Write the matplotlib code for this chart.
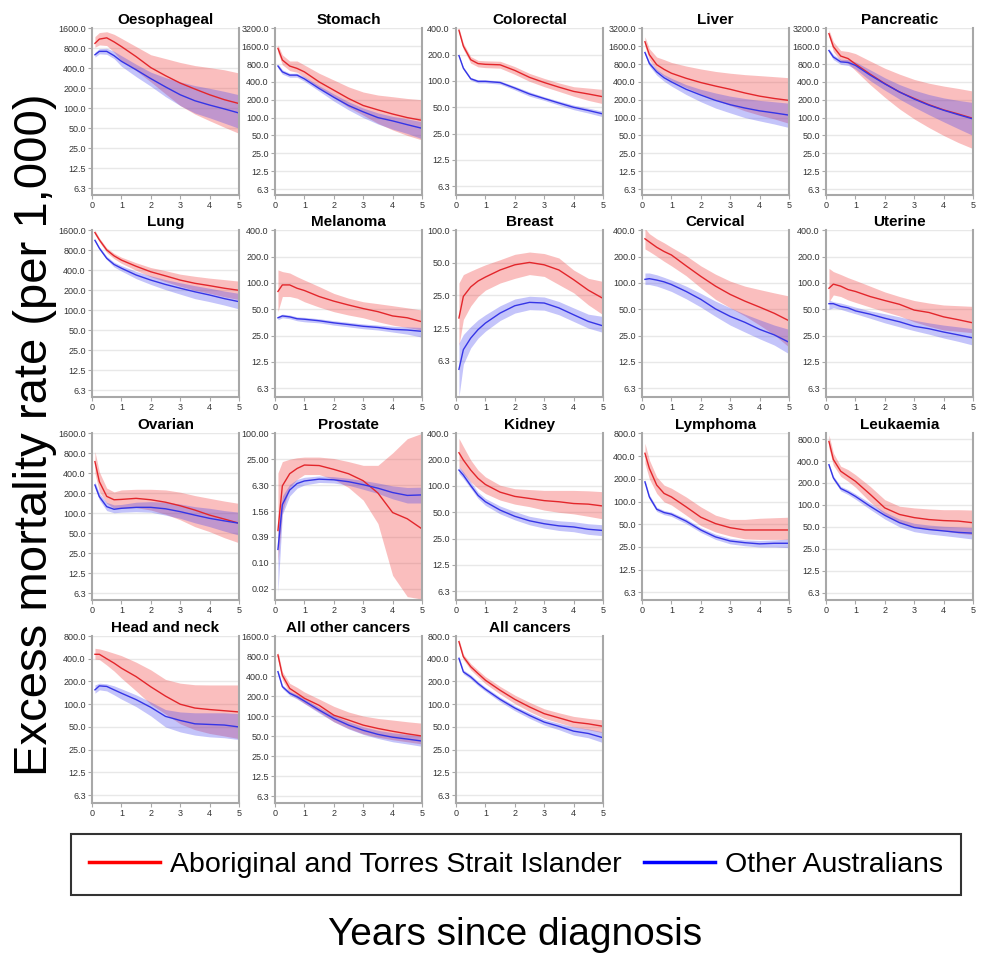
import numpy as np
import matplotlib
matplotlib.use('Agg')
import matplotlib.pyplot as plt
from matplotlib.lines import Line2D

plt.rcParams['font.family'] = ['Liberation Sans', 'DejaVu Sans']

years = [0.1, 0.25, 0.5, 0.75, 1, 1.5, 2, 2.5, 3, 3.5, 4, 4.5, 5]

# each array: [estimate, lower, upper] at the years above
oeso_ab = [[950, 1100, 1150, 1000, 850, 600, 410, 310, 240, 195, 160, 135, 118],
           [830, 900, 880, 700, 520, 370, 250, 165, 110, 82, 65, 52, 42],
           [1200, 1380, 1420, 1300, 1130, 850, 640, 560, 490, 440, 410, 380, 340]]
oeso_oth = [[640, 720, 720, 620, 510, 380, 280, 210, 160, 130, 112, 98, 85],
            [590, 660, 650, 560, 430, 300, 215, 150, 110, 85, 72, 60, 50],
            [700, 790, 800, 720, 620, 460, 350, 290, 250, 220, 200, 180, 160]]
stom_ab = [[1470, 935, 740, 675, 590, 400, 290, 210, 160, 135, 115, 100, 90],
           [1250, 780, 620, 580, 480, 320, 220, 150, 110, 80, 62, 50, 42],
           [1680, 1140, 900, 900, 770, 560, 430, 330, 270, 240, 225, 210, 200]]
stom_oth = [[740, 590, 520, 520, 450, 310, 220, 160, 125, 100, 88, 76, 66],
            [680, 540, 480, 480, 410, 280, 190, 135, 100, 78, 64, 54, 44],
            [800, 640, 560, 560, 490, 345, 250, 185, 145, 120, 105, 95, 85]]
colo_ab = [[380, 250, 175, 158, 155, 153, 132, 110, 96, 85, 76, 71, 66],
           [355, 230, 160, 145, 142, 140, 119, 99, 86, 76, 67, 60, 55],
           [405, 270, 190, 172, 170, 168, 146, 122, 107, 95, 86, 83, 80]]
colo_oth = [[195, 140, 106, 99, 99, 96, 83, 71, 63, 56, 50, 46, 42],
            [190, 135, 102, 95, 95, 92, 79, 67, 60, 53, 47, 43, 39],
            [200, 145, 110, 103, 103, 100, 87, 75, 66, 59, 53, 49, 45]]
liver_ab = [[1900, 1150, 780, 650, 560, 460, 390, 340, 300, 260, 230, 210, 195],
            [1600, 950, 620, 500, 420, 320, 250, 200, 160, 130, 110, 95, 80],
            [2300, 1450, 1050, 950, 850, 740, 660, 600, 560, 530, 510, 490, 470]]
liver_oth = [[1250, 820, 590, 470, 400, 300, 240, 195, 165, 145, 130, 120, 110],
             [1150, 740, 520, 410, 340, 245, 185, 145, 120, 100, 88, 78, 68],
             [1350, 900, 650, 530, 460, 360, 300, 260, 230, 210, 195, 185, 175]]
panc_ab = [[2600, 1570, 1090, 990, 800, 540, 375, 270, 210, 165, 135, 115, 97],
           [2300, 1300, 900, 820, 620, 360, 220, 140, 95, 68, 50, 38, 30],
           [3000, 1900, 1350, 1300, 1200, 900, 680, 540, 440, 380, 340, 310, 280]]
panc_oth = [[1350, 1050, 870, 850, 760, 520, 370, 270, 205, 162, 133, 112, 95],
            [1250, 950, 790, 760, 660, 420, 290, 205, 150, 112, 85, 65, 50],
            [1450, 1150, 960, 950, 870, 640, 470, 360, 290, 245, 215, 195, 180]]
lung_ab = [[1480, 1150, 810, 660, 570, 460, 380, 330, 285, 255, 235, 215, 200],
           [1380, 1070, 740, 600, 510, 400, 320, 270, 230, 200, 180, 160, 145],
           [1600, 1230, 870, 720, 630, 520, 440, 395, 350, 325, 305, 290, 275]]
lung_oth = [[1130, 860, 606, 490, 430, 340, 285, 245, 215, 190, 170, 150, 135],
            [1080, 820, 580, 450, 390, 300, 245, 205, 175, 150, 135, 120, 105],
            [1180, 900, 650, 530, 470, 385, 330, 290, 260, 235, 215, 195, 180]]
mela_ab = [[80, 95, 95, 87, 82, 70, 62, 56, 51, 47, 42, 40, 36],
           [47, 70, 70, 67, 61, 53, 47, 43, 40, 36, 33, 31, 29],
           [141, 135, 130, 118, 108, 91, 76, 67, 61, 58, 55, 52, 49]]
mela_oth = [[40, 42, 41, 39, 38.5, 37, 35, 33.5, 32, 31, 29.5, 29, 28],
            [38, 40, 39, 37, 36, 35, 33, 31.5, 30, 29, 27.5, 26, 24],
            [42, 44, 43, 41, 40.5, 39, 37, 35.5, 34, 33, 32, 31.5, 31]]
breast_ab = [[15.5, 24.5, 30, 34, 37, 43, 48, 50.5, 48, 43, 35, 28, 23.5],
             [8.6, 15, 20, 24.5, 28, 32.6, 36, 39, 37.5, 31.5, 26.5, 20.5, 16.6],
             [32.6, 39, 42, 45, 48, 53.5, 60, 63, 61, 55.5, 43, 36, 33.7]]
breast_oth = [[5.2, 7.9, 10.1, 12.1, 13.9, 17.2, 20.1, 21.6, 21.3, 19.2, 16.6, 14.4, 13.1],
              [2.9, 5.8, 8.2, 10.1, 11.7, 14.7, 17.2, 18.5, 18.3, 16.6, 14.4, 12.5, 11.4],
              [9.1, 10.9, 12.9, 14.9, 16.6, 20.1, 23.2, 24.6, 24.2, 22, 19.2, 16.8, 16]]
cerv_ab = [[320, 294, 256, 229, 209, 157, 119, 92, 74, 62, 53, 45, 37],
           [245, 229, 202, 177, 157, 121, 88, 65, 52, 42, 33, 25.5, 18.5],
           [420, 366, 320, 288, 256, 205, 157, 126, 105, 92, 84, 77, 71]]
cerv_oth = [[110, 112, 108, 103, 96, 80, 65, 50.5, 41.5, 35.5, 29.5, 25.5, 21],
            [96, 96, 92, 86, 80, 66, 53, 41.5, 33, 27.5, 23, 19.5, 15.5],
            [130, 130, 124, 116, 108, 92, 76, 62, 52, 44, 38, 33, 29.5]]
uter_ab = [[87, 97, 92, 84, 80, 70, 63, 57, 49, 46, 41, 38, 35],
           [61, 73, 70, 64, 60, 53, 47, 42, 36, 32, 29, 28, 27],
           [147, 135, 125, 115, 107, 92, 79, 70, 63, 59, 56, 55, 54]]
uter_oth = [[58, 58, 54, 52, 48, 44, 39.5, 36, 32, 30, 27.5, 25.5, 23.5],
            [50, 52, 50, 47, 44.5, 39.5, 35, 31.5, 28.5, 26, 23.5, 21.5, 19.5],
            [64, 61, 59, 56, 53, 48, 44.5, 41, 37.5, 35, 33, 31.5, 30]]
ovar_ab = [[600, 300, 180, 160, 162, 168, 160, 147, 130, 112, 94, 82, 71],
           [400, 212, 142, 119, 119, 122, 112, 97, 80, 63, 53, 43, 36],
           [850, 420, 240, 210, 225, 230, 230, 225, 208, 185, 168, 153, 141]]
ovar_oth = [[267, 178, 126, 115, 119, 123, 123, 117, 106, 94, 84, 77, 71],
            [238, 160, 110, 102, 104, 106, 104, 94, 84, 72, 63, 54, 47],
            [300, 200, 146, 134, 136, 147, 150, 147, 138, 126, 119, 110, 104]]
prost_ab = [[0.55, 6.0, 11.5, 15.2, 18.3, 17.8, 14.5, 11.5, 7.9, 4.1, 1.44, 1.03, 0.6],
            [0.1, 1.5, 5.5, 8.5, 11, 11, 8.5, 5.5, 2.8, 0.8, 0.05, 0.016, 0.014],
            [12, 22, 25, 27, 28, 28, 26, 22, 18, 18, 35, 75, 100]]
prost_oth = [[0.2, 2.2, 4.8, 6.8, 7.8, 8.6, 8.3, 7.5, 6.4, 5.3, 4.2, 3.6, 3.7],
             [0.02, 1.3, 3.5, 5.3, 6.3, 7.2, 7.0, 6.2, 5.0, 4.0, 3.0, 2.4, 2.4],
             [0.6, 3.5, 6.5, 8.5, 9.5, 10.2, 9.8, 9.0, 8.0, 7.0, 6.0, 5.5, 5.6]]
kidn_ab = [[240, 198, 152, 122, 104, 85, 76, 72, 68, 66, 63, 62, 59],
           [166, 139, 111, 94, 82, 69, 62, 58, 53, 50, 48, 45, 42],
           [350, 282, 198, 152, 127, 102, 93, 91, 89, 89, 89, 88, 86]]
kidn_oth = [[152, 133, 101, 78, 66, 53, 45, 40, 37, 35, 34, 32, 31],
            [139, 122, 94, 72, 60, 48, 41, 36, 33, 31, 30, 28, 27],
            [166, 145, 111, 85, 72, 59, 51, 45, 42, 40, 39, 37, 36]]
lymp_ab = [[435, 275, 165, 128, 115, 85, 62, 51, 45, 42, 42, 42, 42],
           [320, 200, 128, 99, 90, 66, 48, 39.5, 35, 32, 31.5, 31.5, 31.5],
           [590, 355, 212, 165, 150, 115, 85, 66, 58, 58, 60, 61, 62]]
lymp_oth = [[182, 115, 79, 71.5, 68, 55, 42, 34, 30, 28.5, 27.5, 28, 28],
            [170, 107, 74, 67, 63.5, 51, 39, 31.5, 27.5, 26, 25, 25, 24.5],
            [195, 123, 84, 76, 72.5, 59, 45, 37, 32.5, 31, 30.5, 31, 32]]
leuk_ab = [[742, 420, 290, 247, 211, 140, 91, 74, 67, 63, 61, 60, 57],
           [600, 350, 247, 211, 175, 110, 74, 57, 50, 46, 44, 41, 39],
           [915, 515, 340, 305, 260, 180, 118, 96, 91, 88, 86, 86, 85]]
leuk_oth = [[356, 235, 168, 150, 131, 96, 72, 57, 49, 46, 44, 42, 41],
            [335, 220, 156, 139, 120, 87, 64, 50, 43, 40, 38, 36, 34],
            [375, 250, 180, 162, 142, 106, 80, 64, 56, 53, 51, 50, 49]]
head_ab = [[458, 458, 400, 350, 300, 232, 170, 128, 100, 89, 85, 82, 79],
           [395, 390, 330, 275, 222, 150, 100, 74, 55, 46, 41, 38, 35],
           [550, 540, 508, 473, 440, 360, 285, 213, 190, 181, 180, 180, 180]]
head_oth = [[155, 175, 172, 155, 140, 115, 91, 69, 61, 55, 54, 53, 50],
            [140, 155, 150, 133, 117, 93, 70, 50, 43, 39, 37, 36, 34],
            [180, 190, 186, 175, 160, 133, 107, 85, 79, 77, 77, 77, 75]]
other_ab = [[830, 410, 260, 220, 185, 145, 103, 87, 73, 65, 59, 54, 50],
            [700, 350, 220, 185, 155, 115, 82, 65, 54, 48, 44, 41, 38],
            [930, 465, 310, 270, 230, 180, 140, 115, 100, 92, 87, 82, 78]]
other_oth = [[465, 277, 220, 195, 168, 123, 92, 73, 61, 53, 48, 45, 42],
             [440, 260, 205, 180, 154, 111, 82, 64, 53, 46, 41, 38, 35],
             [490, 295, 235, 210, 182, 135, 102, 82, 69, 61, 56, 53, 50]]
all_ab = [[673, 425, 314, 255, 208, 153, 116, 92, 75, 66, 58, 55, 51],
          [620, 390, 285, 230, 187, 136, 102, 80, 65, 57, 50, 46, 42],
          [730, 460, 345, 282, 232, 172, 132, 106, 87, 77, 69, 65, 62]]
all_oth = [[405, 268, 230, 188, 158, 116, 89, 71, 58, 51, 44, 41, 36],
           [380, 252, 215, 176, 148, 108, 82, 65, 53, 46, 39, 36, 31],
           [430, 285, 245, 200, 168, 124, 95, 77, 63, 56, 50, 47, 43]]

titles = ['Oesophageal', 'Stomach', 'Colorectal', 'Liver', 'Pancreatic',
          'Lung', 'Melanoma', 'Breast', 'Cervical', 'Uterine',
          'Ovarian', 'Prostate', 'Kidney', 'Lymphoma', 'Leukaemia',
          'Head and neck', 'All other cancers', 'All cancers']
ab_data = [oeso_ab, stom_ab, colo_ab, liver_ab, panc_ab, lung_ab, mela_ab, breast_ab,
           cerv_ab, uter_ab, ovar_ab, prost_ab, kidn_ab, lymp_ab, leuk_ab, head_ab,
           other_ab, all_ab]
oth_data = [oeso_oth, stom_oth, colo_oth, liver_oth, panc_oth, lung_oth, mela_oth,
            breast_oth, cerv_oth, uter_oth, ovar_oth, prost_oth, kidn_oth, lymp_oth,
            leuk_oth, head_oth, other_oth, all_oth]
# highest labelled y tick of each panel
top_tick = [1600, 3200, 400, 3200, 3200, 1600, 400, 100, 400, 400,
            1600, 100, 400, 800, 800, 800, 1600, 800]
prostate_ticks = [100 / 4**6, 100 / 4**5, 100 / 4**4, 100 / 4**3, 100 / 16, 25, 100]
prostate_labels = ['0.02', '0.10', '0.39', '1.56', '6.30', '25.00', '100.00']
x_labels = ['0', '1', '2', '3', '4', '5']

W, H = 982, 955
fig = plt.figure(figsize=(W / 100, H / 100), dpi=100)

col_left = [92, 275, 456, 642, 826]
row_top = [28.3, 230.3, 433.3, 636]
ax_w, ax_h = 147, 166.5

red = '#e3262b'
blue = '#3535e6'
spine_c = '#a8a8a8'

for i, name in enumerate(titles):
    r, c = divmod(i, 5)
    ax = fig.add_axes([col_left[c] / W, 1 - (row_top[r] + ax_h) / H, ax_w / W, ax_h / H])
    ax.set_yscale('log')
    ab = ab_data[i]
    oth = oth_data[i]
    ax.fill_between(years, ab[1], ab[2], color='#f03c3c', alpha=0.33, lw=0)
    ax.fill_between(years, oth[1], oth[2], color='#3c3cf0', alpha=0.3, lw=0)
    ax.plot(years, ab[0], color=red, lw=1)
    ax.plot(years, oth[0], color=blue, lw=1)

    if name == 'Prostate':
        ticks = prostate_ticks
        labels = prostate_labels
        ax.set_ylim(0.0135, 100)
    else:
        ticks = []
        v = 6.25
        while v <= top_tick[i] * 1.01:
            ticks.append(v)
            v *= 2
        labels = ['6.3' if t == 6.25 else '%.1f' % t for t in ticks]
        lo = 2.9 if name == 'Breast' else 5.0
        hi = 960 if name == 'Leukaemia' else top_tick[i]
        ax.set_ylim(lo, hi)
    ax.set_yticks(ticks)
    ax.set_yticklabels(labels)
    ax.minorticks_off()
    ax.set_xlim(0, 5)
    ax.set_xticks(range(6))
    ax.set_xticklabels(x_labels)
    ax.grid(axis='y', color='#e8e8e8', lw=1)
    ax.set_axisbelow(True)
    ax.tick_params(labelsize=6.5, colors='#333333', length=3, width=0.8, pad=1.5)
    ax.tick_params(axis='both', color=spine_c)
    for s in ['left', 'right', 'bottom']:
        ax.spines[s].set_color(spine_c)
        ax.spines[s].set_linewidth(1.5)
    ax.spines['top'].set_visible(False)
    ax.set_title(name, fontsize=11, fontweight='bold', pad=3)

handles = [Line2D([], [], color='#ff0000', lw=2.5),
           Line2D([], [], color='#0000ff', lw=2.5)]
leg = fig.legend(handles, ['Aboriginal and Torres Strait Islander', 'Other Australians'],
                 loc='center', ncol=2,
                 bbox_to_anchor=(516 / W, 1 - 864.5 / H),
                 fontsize=20.5, frameon=True, fancybox=False, edgecolor='black',
                 handlelength=2.5, handletextpad=0.35, columnspacing=0.8,
                 borderpad=0.62, borderaxespad=0)
leg.get_frame().set_linewidth(1.5)

fig.text(35 / W, 1 - 435 / H, 'Excess mortality rate (per 1,000)', rotation=90,
         fontsize=34, ha='center', va='center')
fig.text(515 / W, 1 - 935 / H, 'Years since diagnosis', fontsize=28,
         ha='center', va='center')

fig.savefig('out.png', dpi=100)
